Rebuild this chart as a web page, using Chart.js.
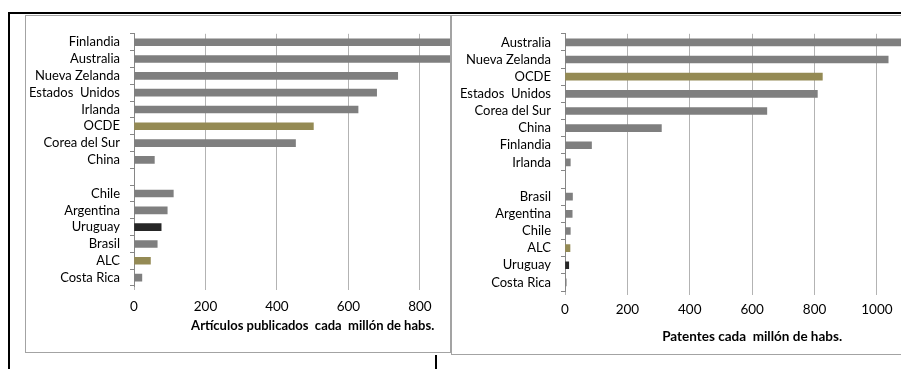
<!DOCTYPE html>
<html lang="es">
<head>
<meta charset="utf-8">
<title>Artículos y patentes cada millón de habitantes</title>
<script src="https://cdn.jsdelivr.net/npm/chart.js@4.4.1/dist/chart.umd.min.js"></script>
<style>
    html, body { margin: 0; padding: 0; background: #fff; overflow: hidden; }
    body { position: relative; width: 901px; height: 369px; }
    .panel {
        position: absolute;
        border: 1px solid #a3a3a3;
        background: #fff;
        overflow: hidden;
    }
    .panel canvas { position: absolute; left: 0; top: 0; }
    #panelArticulos { left: 25px; top: 15px; width: 424px; height: 336px; }
    #panelPatentes { left: 451px; top: 15px; width: 520px; height: 338px; }
    .linea { position: absolute; background: #000; }
</style>
</head>
<body>
<div class="linea" style="left:8px; top:12px; width:893px; height:2px;"></div>
<div class="linea" style="left:8px; top:12px; width:2px; height:357px;"></div>
<div class="linea" style="left:435px; top:355px; width:2px; height:14px;"></div>

<div class="panel" id="panelArticulos">
    <canvas id="chartArticulos" width="490" height="336"></canvas>
</div>
<div class="panel" id="panelPatentes">
    <canvas id="chartPatentes" width="510" height="338"></canvas>
</div>

<script>
// Artículos publicados cada millón de habitantes
const articulosPaises = ['Finlandia', 'Australia', 'Nueva Zelanda', 'Estados  Unidos', 'Irlanda', 'OCDE',
    'Corea del Sur', 'China', '', 'Chile', 'Argentina', 'Uruguay', 'Brasil', 'ALC', 'Costa Rica'];
const articulosValores = [960, 930, 738, 679, 627, 502, 452, 57, null, 110, 93, 76, 65, 46, 22];
const articulosTicks = [0, 200, 400, 600, 800, 1000];

// Patentes cada millón de habitantes
const patentesPaises = ['Australia', 'Nueva Zelanda', 'OCDE', 'Estados  Unidos', 'Corea del Sur', 'China',
    'Finlandia', 'Irlanda', '', 'Brasil', 'Argentina', 'Chile', 'ALC', 'Uruguay', 'Costa Rica'];
const patentesValores = [1090, 1036, 825, 809, 647, 309, 85, 17, null, 24, 23, 17, 16, 12, 4];
const patentesTicks = [0, 200, 400, 600, 800, 1000, 1200];

const FONT = 'Lato, "Open Sans", sans-serif';

// promedios en oliva, Uruguay destacado en oscuro
function barColor(pais) {
    if (pais === 'OCDE' || pais === 'ALC') return '#948a54';
    if (pais === 'Uruguay') return '#262626';
    return '#7f7f7f';
}

function createBarChart(canvasId, opts) {
    const ctx = document.getElementById(canvasId);
    if (!ctx) return null;

    return new Chart(ctx, {
        type: 'bar',
        data: {
            labels: opts.labels,
            datasets: [{
                data: opts.values,
                backgroundColor: opts.labels.map(barColor),
                barThickness: 7,
                borderWidth: 0
            }]
        },
        options: {
            indexAxis: 'y',
            responsive: false,
            animation: false,
            layout: { padding: opts.padding },
            plugins: {
                legend: { display: false },
                tooltip: { enabled: false }
            },
            scales: {
                x: {
                    min: opts.ticks[0],
                    max: opts.ticks[opts.ticks.length - 1],
                    afterBuildTicks: (scale) => {
                        scale.ticks = opts.ticks.map(v => ({ value: v }));
                    },
                    afterFit: (scale) => { scale.height = opts.xHeight; },
                    grid: { color: '#b3b3b3', tickLength: 4 },
                    border: { display: false },
                    ticks: {
                        color: '#000',
                        padding: opts.xTickPad,
                        callback: (value) => String(value),
                        font: { family: FONT, size: opts.fontSize + 0.5 }
                    },
                    title: {
                        display: true,
                        text: opts.title,
                        color: '#000',
                        padding: { top: 0, bottom: opts.titlePad },
                        font: { family: FONT, size: opts.titleSize, weight: 'bold' }
                    }
                },
                y: {
                    offset: true,
                    afterFit: (scale) => { scale.width = opts.yWidth; },
                    grid: { drawOnChartArea: false, offset: true, tickLength: 4, color: '#868686' },
                    border: { color: '#868686' },
                    ticks: {
                        autoSkip: false,
                        color: '#000',
                        padding: opts.yTickPad,
                        font: { family: FONT, size: opts.fontSize }
                    }
                }
            }
        }
    });
}

createBarChart('chartArticulos', {
    labels: articulosPaises,
    values: articulosValores,
    ticks: articulosTicks,
    title: 'Artículos publicados  cada  millón de habs.',
    fontSize: 13,
    titleSize: 13,
    padding: { left: 0, top: 14, right: 13, bottom: 0 },
    xHeight: 66,
    xTickPad: 9,
    titlePad: 18,
    yWidth: 108,
    yTickPad: 10
});

createBarChart('chartPatentes', {
    labels: patentesPaises,
    values: patentesValores,
    ticks: patentesTicks,
    title: 'Patentes cada  millón de habs.',
    fontSize: 13,
    titleSize: 13.5,
    padding: { left: 0, top: 14, right: 13, bottom: 0 },
    xHeight: 63,
    xTickPad: 7,
    titlePad: 9,
    yWidth: 113,
    yTickPad: 10
});
</script>
</body>
</html>
